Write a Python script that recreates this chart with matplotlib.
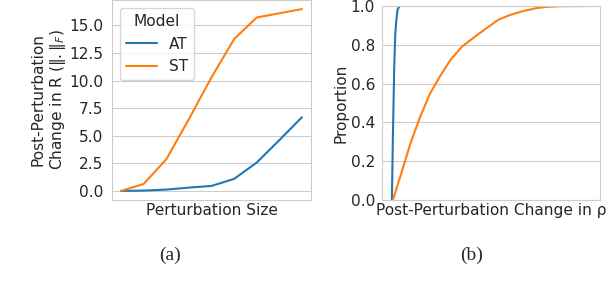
import matplotlib
matplotlib.use("Agg")
import matplotlib.pyplot as plt
import seaborn as sns

sns.set_style("whitegrid")
plt.rcParams['font.family'] = ['DejaVu Sans']

# (a) change in R per perturbation step
steps = list(range(9))
at_change = [0.0, 0.03, 0.12, 0.3, 0.45, 1.09, 2.57, 4.6, 6.68]
st_change = [0.0, 0.63, 2.87, 6.5, 10.3, 13.76, 15.72, 16.1, 16.48]

# (b) ECDF of change in rho
at_rho = [0.0, 0.005, 0.0116, 0.0167, 0.0217, 0.0283, 0.0384]
at_prop = [0.0, 0.33, 0.68, 0.85, 0.92, 0.98, 1.0]
st_rho = [0.005, 0.042, 0.093, 0.143, 0.193, 0.244, 0.294, 0.353, 0.429,
          0.538, 0.597, 0.663, 0.724, 0.774, 0.850, 1.0]
st_prop = [0.0, 0.12, 0.29, 0.43, 0.55, 0.64, 0.72, 0.79, 0.85,
           0.93, 0.954, 0.974, 0.988, 0.995, 0.999, 1.0]

blue = '#1f77b4'
orange = '#ff7f0e'
fs = 11.1
txt = '#262626'

fig = plt.figure(figsize=(6.08, 3.0), dpi=100)

# left panel
ax1 = fig.add_axes([112/608, 1 - 200/300, 199/608, 200/300])
ax1.plot(steps, at_change, color=blue, lw=1.5, label='AT')
ax1.plot(steps, st_change, color=orange, lw=1.5, label='ST')
ax1.set_xticks([])
ax1.set_yticks([0, 2.5, 5, 7.5, 10, 12.5, 15])
ax1.set_yticklabels(['0.0', '2.5', '5.0', '7.5', '10.0', '12.5', '15.0'])
ax1.tick_params(axis='y', labelsize=fs, length=0, pad=6, colors=txt)
ax1.set_xlabel('Perturbation Size', fontsize=fs, color=txt, labelpad=2)
ax1.set_ylabel('Post-Perturbation\n' + r'Change in R ($\|.\|_F$)', fontsize=fs,
               color=txt, labelpad=1)
ax1.grid(axis='x', visible=False)
leg = ax1.legend(title='Model', loc='upper left', fontsize=fs,
                 title_fontsize=fs, borderaxespad=0.5)

# right panel
ax2 = fig.add_axes([382/608, 1 - 200/300, 218/608, 194/300])
ax2.plot(at_rho, at_prop, color=blue, lw=1.5)
ax2.plot(st_rho, st_prop, color=orange, lw=1.5)
ax2.set_ylim(0, 1)
ax2.set_xticks([])
ax2.set_yticks([0, 0.2, 0.4, 0.6, 0.8, 1.0])
ax2.tick_params(axis='y', labelsize=fs, length=0, pad=5, colors=txt)
ax2.set_xlabel('Post-Perturbation Change in ρ', fontsize=fs, color=txt, labelpad=2)
ax2.set_ylabel('Proportion', fontsize=fs, color=txt, labelpad=1.5)
ax2.grid(axis='x', visible=False)

# sub-captions
fig.text(170/608, 1 - 255/300, '(a)', family='Liberation Serif', fontsize=14,
         ha='center', va='center')
fig.text(472/608, 1 - 255/300, '(b)', family='Liberation Serif', fontsize=14,
         ha='center', va='center')

fig.savefig('out.png', dpi=100)
